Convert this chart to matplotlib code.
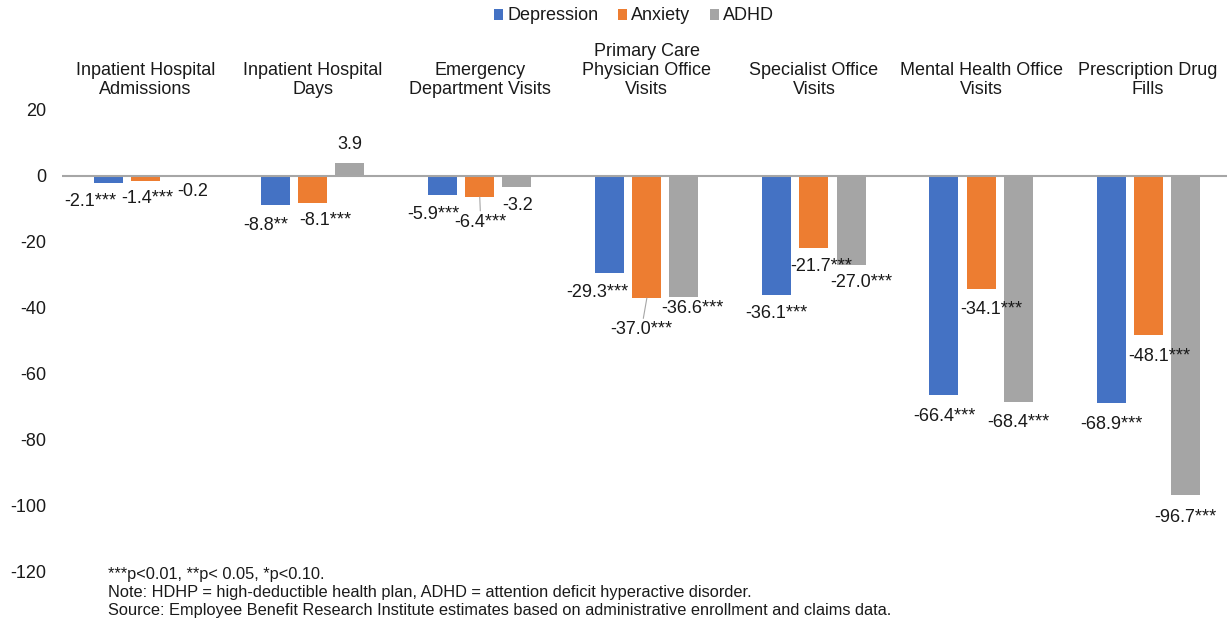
import matplotlib
matplotlib.use("Agg")
import matplotlib.pyplot as plt
from matplotlib.patches import Patch

plt.rcParams["font.family"] = ["Liberation Sans", "DejaVu Sans"]
plt.rcParams["axes.unicode_minus"] = False

# categories and series values
categories = [
    "Inpatient Hospital\nAdmissions",
    "Inpatient Hospital\nDays",
    "Emergency\nDepartment Visits",
    "Primary Care\nPhysician Office\nVisits",
    "Specialist Office\nVisits",
    "Mental Health Office\nVisits",
    "Prescription Drug\nFills",
]
series_names = ["Depression", "Anxiety", "ADHD"]
depression = [-2.1, -8.8, -5.9, -29.3, -36.1, -66.4, -68.9]
anxiety = [-1.4, -8.1, -6.4, -37.0, -21.7, -34.1, -48.1]
adhd = [-0.2, 3.9, -3.2, -36.6, -27.0, -68.4, -96.7]
depression_sig = ["***", "**", "***", "***", "***", "***", "***"]
anxiety_sig = ["***", "***", "***", "***", "***", "***", "***"]
adhd_sig = ["", "", "", "***", "***", "***", "***"]
y_ticks = [20, 0, -20, -40, -60, -80, -100, -120]

footnotes = [
    "***p<0.01, **p< 0.05, *p<0.10.",
    "Note: HDHP = high-deductible health plan, ADHD = attention deficit hyperactive disorder.",
    "Source: Employee Benefit Research Institute estimates based on administrative enrollment and claims data.",
]

colors = ["#4472C4", "#ED7D31", "#A5A5A5"]

# manual label nudges (pixels, +dy = down), mimicking the hand-placed labels
nudges = [
    [(-18.5, -2), (-9.5, -1), (-9.5, -1.5), (-12, -1), (0, -2.5), (0, 0), (0.5, 0)],
    [(2, -3.6), (13, -3.7), (1, 4), (-5.5, 10.6), (7.6, -2), (10, 0), (11.5, 1)],
    [(10.5, -5.7), (0, 0), (0.5, -1.6), (8.5, -9), (10.4, -3.3), (0, 0), (0.5, 1)],
]
leader = {(1, 2), (1, 3)}

W, H = 1227, 623
fig = plt.figure(figsize=(W / 100, H / 100), dpi=100)
ax = fig.add_axes([62 / W, (H - 572) / H, (W - 62) / W, 462 / H])

group_px = 167.1
ax.set_xlim(-0.5, -0.5 + (W - 62) / group_px)
ax.set_ylim(-120, 20)

offsets = [-0.222, 0.0, 0.222]
bar_w = 0.174
values = [depression, anxiety, adhd]
sigs = [depression_sig, anxiety_sig, adhd_sig]
px = 0.72  # points per pixel

for s, (vals, sig, col) in enumerate(zip(values, sigs, colors)):
    xs = [i + offsets[s] for i in range(len(vals))]
    ax.bar(xs, vals, width=bar_w, color=col, zorder=2)
    for i, (x, v) in enumerate(zip(xs, vals)):
        dx, dy = nudges[s][i]
        base = 19 if v >= 0 else -21
        kw = {}
        if (s, i) in leader:
            kw["arrowprops"] = dict(arrowstyle="-", color="#A6A6A6", lw=0.8,
                                    shrinkA=0, shrinkB=0)
        ax.annotate(f"{v:.1f}{sig[i]}", xy=(x, v),
                    xytext=(dx * px, (base - dy) * px), textcoords="offset points",
                    ha="center", va="center", fontsize=13, color="#1a1a1a", **kw)

ax.axhline(0, color="#A6A6A6", lw=1.5, zorder=3)

for i, cat in enumerate(categories):
    ax.annotate(cat, xy=(i, 20), xytext=(0, 8.6), textcoords="offset points",
                ha="center", va="bottom", fontsize=13, color="#1a1a1a",
                annotation_clip=False, linespacing=1.17)

ax.set_yticks(y_ticks)
ax.set_xticks([])
ax.tick_params(axis="y", length=0, pad=11.5, labelsize=13, labelcolor="#1a1a1a")
for sp in ax.spines.values():
    sp.set_visible(False)

handles = [Patch(facecolor=c, edgecolor="none") for c in colors]
fig.legend(handles, series_names, loc="center", bbox_to_anchor=(634 / W, 1 - 16 / H),
           ncol=3, frameon=False, fontsize=13, handlelength=0.55, handleheight=0.55,
           handletextpad=0.22, columnspacing=1.05, borderpad=0, labelcolor="#1a1a1a")

for k, line in enumerate(footnotes):
    fig.text(108 / W, 1 - [574, 593, 611][k] / H, line, fontsize=11.8,
             ha="left", va="center", color="#1a1a1a")

fig.savefig("out.png", dpi=100)
